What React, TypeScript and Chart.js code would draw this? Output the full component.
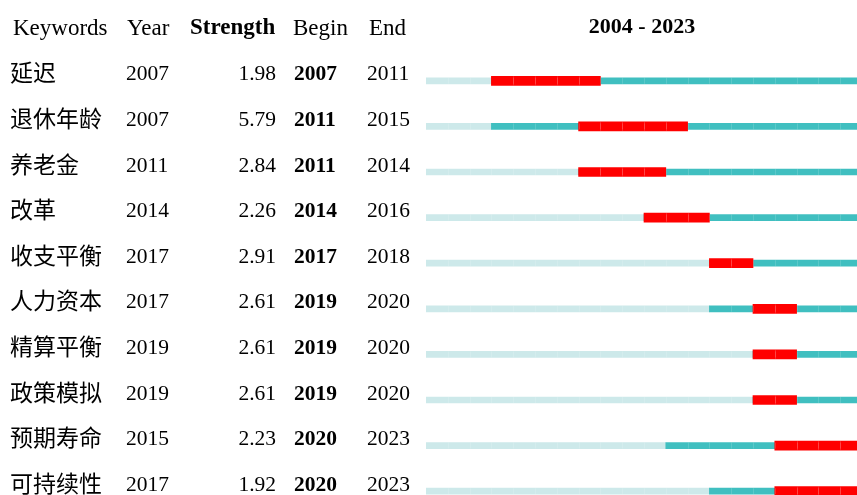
import React, { useEffect, useRef } from "react";
import { Chart, registerables } from "chart.js";

Chart.register(...registerables);

const keywords = ["延迟", "退休年龄", "养老金", "改革", "收支平衡", "人力资本", "精算平衡", "政策模拟", "预期寿命", "可持续性"];
const years = [2007, 2007, 2011, 2014, 2017, 2017, 2019, 2019, 2015, 2017];
const strengths = [1.98, 5.79, 2.84, 2.26, 2.91, 2.61, 2.61, 2.61, 2.23, 1.92];
const begins = [2007, 2011, 2011, 2014, 2017, 2019, 2019, 2019, 2020, 2020];
const ends = [2011, 2015, 2014, 2016, 2018, 2020, 2020, 2020, 2023, 2023];
const firstYear = 2004;
const lastYear = 2023;
const headers = ["Keywords", "Year", "Strength", "Begin", "End"];

const LIGHT = "#cde9ea";
const TEAL = "#40bfc0";
const RED = "#ff0000";

const SERIF = '"Liberation Serif", "Times New Roman", serif';
const CJK = '"Noto Sans CJK SC", sans-serif';

const tablePlugin = {
  id: "burstTable",
  afterDatasetsDraw(chart: any) {
    const ctx = chart.ctx;
    const yScale = chart.scales.y;
    const xScale = chart.scales.x;
    // faint cell separators on bars
    ctx.save();
    ctx.strokeStyle = "rgba(255,255,255,0.15)";
    ctx.lineWidth = 1;
    chart.data.datasets.forEach((ds: any, di: number) => {
      const meta = chart.getDatasetMeta(di);
      meta.data.forEach((bar: any, i: number) => {
        const [s, e] = ds.data[i];
        const h = bar.height;
        for (let yr = s + 1; yr < e; yr++) {
          const px = Math.round(xScale.getPixelForValue(yr)) + 0.5;
          ctx.beginPath();
          ctx.moveTo(px, bar.y - h / 2);
          ctx.lineTo(px, bar.y + h / 2);
          ctx.stroke();
        }
      });
    });
    ctx.restore();

    ctx.save();
    ctx.fillStyle = "#000";
    ctx.textBaseline = "alphabetic";
    // header
    const hy = 35;
    ctx.font = `23px ${SERIF}`;
    ctx.textAlign = "left";
    ctx.fillText(headers[0], 13, hy);
    ctx.fillText(headers[1], 127, hy);
    ctx.font = `bold 23px ${SERIF}`;
    ctx.fillText(headers[2], 190, hy - 1);
    ctx.font = `23px ${SERIF}`;
    ctx.fillText(headers[3], 293, hy);
    ctx.fillText(headers[4], 369, hy);
    ctx.font = `bold 22px ${SERIF}`;
    ctx.textAlign = "center";
    const cx = (xScale.getPixelForValue(firstYear) + xScale.getPixelForValue(lastYear + 1)) / 2 - 2;
    ctx.fillText(`${firstYear} - ${lastYear}`, cx, 33);

    keywords.forEach((kw, i) => {
      const y = yScale.getPixelForValue(i) - 0.5;
      ctx.textAlign = "left";
      ctx.font = `23px ${CJK}`;
      ctx.fillText(kw, 10, y + 1);
      ctx.font = `21.5px ${SERIF}`;
      ctx.fillText(String(years[i]), 126, y);
      ctx.textAlign = "right";
      ctx.fillText(strengths[i].toFixed(2), 276, y);
      ctx.textAlign = "left";
      ctx.font = `bold 21.5px ${SERIF}`;
      ctx.fillText(String(begins[i]), 294, y);
      ctx.font = `21.5px ${SERIF}`;
      ctx.fillText(String(ends[i]), 367, y);
    });
    ctx.restore();
  },
};

export default function App() {
  const ref = useRef<HTMLCanvasElement | null>(null);
  useEffect(() => {
    if (!ref.current) return;
    const lightData = keywords.map((_, i) => [firstYear, years[i]]);
    const tealData = keywords.map((_, i) => [years[i], lastYear + 1]);
    const redData = keywords.map((_, i) => [begins[i], ends[i] + 1]);
    const chart = new Chart(ref.current, {
      type: "bar",
      data: {
        labels: keywords,
        datasets: [
          { label: "before", data: lightData as any, backgroundColor: LIGHT, barThickness: 6, grouped: false, order: 3 } as any,
          { label: "present", data: tealData as any, backgroundColor: TEAL, barThickness: 6, grouped: false, order: 2 } as any,
          { label: "burst", data: redData as any, backgroundColor: RED, barThickness: 9, grouped: false, order: 1 } as any,
        ],
      },
      options: {
        indexAxis: "y",
        responsive: false,
        maintainAspectRatio: false,
        animation: false,
        layout: { padding: { left: 426, right: 8, top: 58, bottom: 0 } },
        plugins: { legend: { display: false }, tooltip: { enabled: false } },
        scales: {
          x: { type: "linear", min: firstYear, max: lastYear + 1, display: false },
          y: { type: "category", display: false, offset: true },
        },
      },
      plugins: [tablePlugin],
    });
    return () => chart.destroy();
  }, []);
  return (
    <div style={{ position: "fixed", left: 0, top: 0, width: 857, height: 495, overflow: "hidden", background: "#fff" }}>
      <canvas ref={ref} width={870} height={514} style={{ width: 870, height: 514, display: "block" }} />
    </div>
  );
}
